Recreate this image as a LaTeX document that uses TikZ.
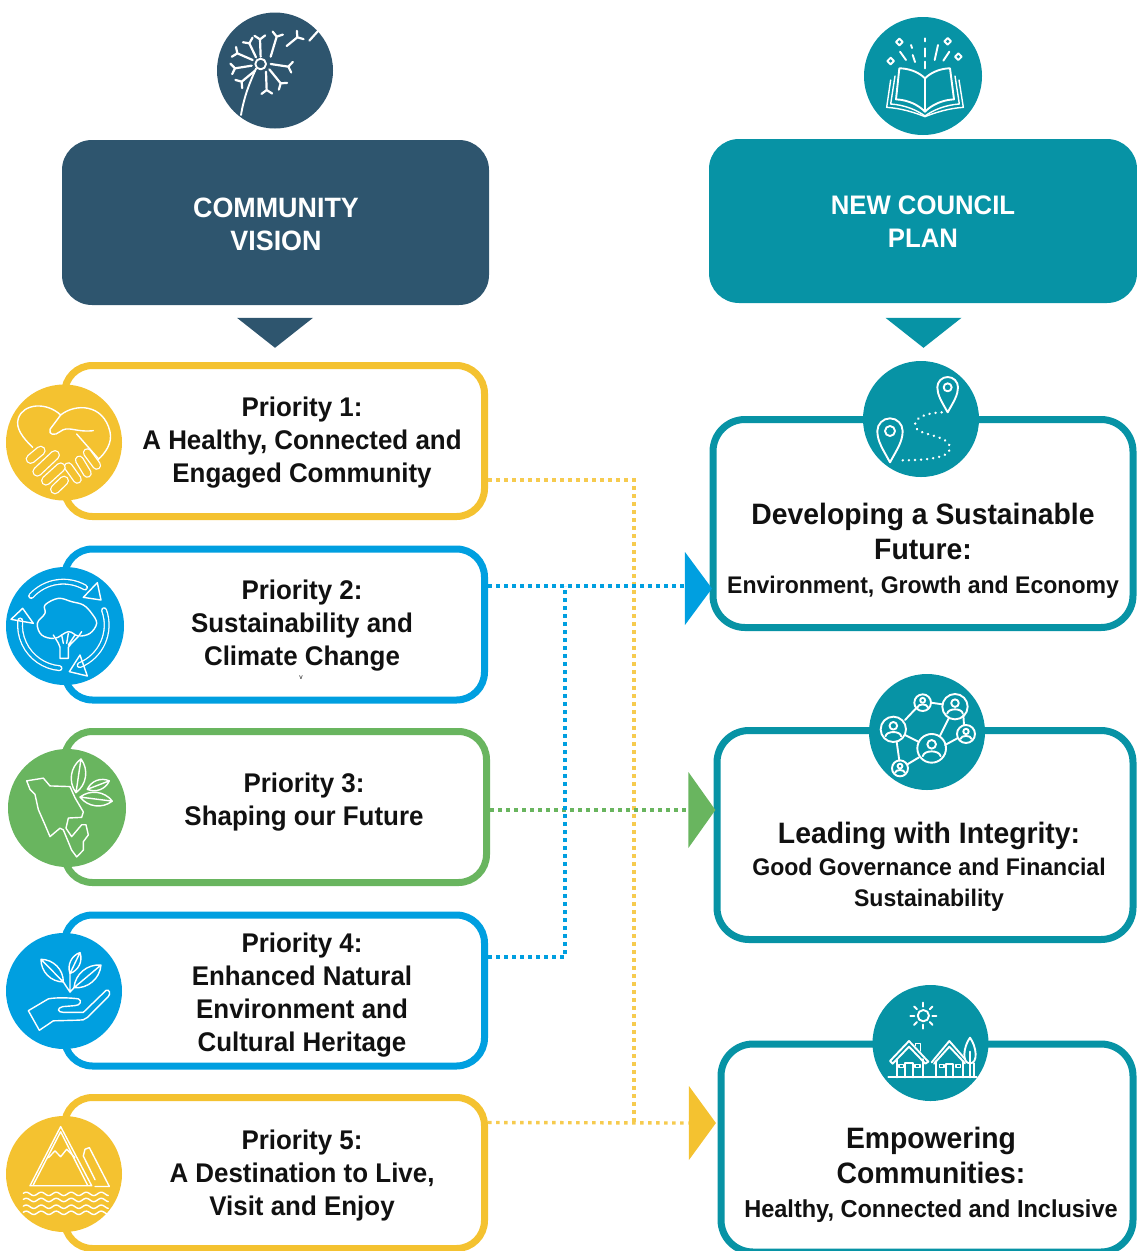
\documentclass[tikz,border=0pt]{standalone}
\usepackage{fontspec}
\newfontfamily\lab[FakeStretch=0.96]{Liberation Sans}
\usetikzlibrary{shapes.geometric,calc}
\definecolor{navy}{HTML}{2E556E}
\definecolor{teal2}{HTML}{0793A5}
\definecolor{yel}{HTML}{F4C230}
\definecolor{blu}{HTML}{009FE0}
\definecolor{grn}{HTML}{69B55F}
\definecolor{ink}{HTML}{111111}
\newcommand\hdl{\fontsize{29.5}{35}\selectfont}
\newcommand\sml{\fontsize{24.5}{35}\selectfont}
\newcommand\smn{\fontsize{24}{35}\selectfont}
\tikzset{
 headbox/.style={rounded corners=30pt,minimum width=427pt,minimum height=165pt,inner sep=0pt},
 headtext/.style={text=white,align=center,inner sep=0pt,font=\lab\bfseries\fontsize{28}{33}\selectfont},
 pbox/.style={draw=#1,line width=7pt,fill=white,rounded corners=28pt,minimum width=420pt,minimum height=151pt,inner sep=0pt},
 rbox/.style={draw=teal2,line width=7pt,fill=white,rounded corners=32pt,inner sep=0pt},
 disc/.style={circle,fill=#1,minimum size=116pt,inner sep=0pt},
 ptext/.style={align=center,text=ink,inner sep=0pt,font=\lab\bfseries\fontsize{27}{33}\selectfont},
 rtext/.style={align=center,text=ink,inner sep=0pt,font=\lab\bfseries\fontsize{27}{35}\selectfont},
 downtri/.style={isosceles triangle,isosceles triangle stretches,shape border rotate=270,fill=#1,minimum width=76pt,minimum height=30pt,inner sep=0pt},
 righttri/.style={isosceles triangle,isosceles triangle stretches,fill=#1,minimum height=27pt,inner sep=0pt},
 dots/.style={draw=#1,line width=3.4pt,dash pattern=on 3.6pt off 4.4pt},
 icon/.style={white,line width=1.4pt,line join=round,line cap=round},
 iconb/.style={white,line width=1.9pt,line join=round,line cap=round},
 zm/.style={x=.33333pt,y=-.33333pt},
 zmt/.style={x=.33333pt,y=-.338pt},
}
\newcommand\capsule[4]{\draw[white,line cap=round,line width=#4pt] (#2)--(#3);\draw[#1,line cap=round,line width=#4pt-2.6pt] (#2)--(#3);}
\newcommand\band[6]{\draw[white,line cap=round,line width=6pt] (#2,#3) ++(#5:#4) arc[start angle=#5,end angle=#6,radius=#4];\draw[#1,line cap=round,line width=3.4pt] (#2,#3) ++(#5:#4) arc[start angle=#5,end angle=#6,radius=#4];}
\newcommand\leaf[3][35]{\draw[icon] (#2) to[bend left=#1] (#3) to[bend left=#1] (#2) -- (#3);}
\newcommand\seed[2]{\draw[iconb,line width=2.2pt] (#1)--(#2) ($(#2)!6.5pt!125:(#1)$)--(#2)--($(#2)!6.5pt!-125:(#1)$);}
\newcommand\person[3]{\draw[iconb] (#1,#2) circle[radius=#3];
 \draw[iconb] (#1,#2-.28*#3) circle[radius=.3*#3];
 \draw[iconb] (#1-.62*#3,#2+.55*#3) .. controls (#1-.55*#3,#2+.1*#3) and (#1+.55*#3,#2+.1*#3) .. (#1+.62*#3,#2+.55*#3);}
\begin{document}
\begin{tikzpicture}[x=1pt,y=-1pt]
\useasboundingbox (0,0) rectangle (1136,1251);
% headers
\node[headbox,fill=navy] (commvis) at (275.5,222.5) {};
\node[headtext] (commtxt) at (276,224) {COMMUNITY\\VISION};
\node[headbox,fill=teal2,minimum height=164pt,minimum width=428pt] (newplan) at (923,221) {};
\node[headtext,font=\lab\bfseries\fontsize{26.8}{33}\selectfont] (plantxt) at (923,222) {NEW COUNCIL\\PLAN};
\node[downtri=navy] (tdownl) at (275,331) {};
\node[downtri=teal2] (tdownr) at (923.5,331) {};
\node[disc=navy] (topl) at (275,70.5) {};
\node[disc=teal2,minimum size=118pt] (topr) at (923,76) {};
% priority boxes
\node[pbox=yel] (p1) at (274.5,441) {};
\node[pbox=blu] (p2) at (274.5,624.5) {};
\node[pbox=grn,minimum width=422pt] (p3) at (275.5,807) {};
\node[pbox=blu] (p4) at (274.5,990.5) {};
\node[pbox=yel] (p5) at (274.5,1173) {};
% council boxes
\node[rbox,minimum width=420pt,minimum height=208pt] (r1) at (923,523.5) {};
\node[rbox,minimum width=416pt,minimum height=209pt] (r2) at (925,835) {};
\node[rbox,minimum width=412pt,minimum height=208pt] (r3) at (927,1148) {};
% connectors
\coordinate (joinY) at (634,1122.5);
\coordinate (joinB) at (565,586);
\node[righttri=yel,minimum width=74pt] (ay) at (701,1123) {};
\draw[dots=yel!85] ([yshift=-39pt]p1.east) -| (joinY);
\draw[dots=yel!85] ([yshift=50.5pt]p5.east) -- (ay.west);
\node[righttri=grn,minimum width=76pt] (ag) at (700.5,810) {};
\draw[dots=grn] ([yshift=-3pt]p3.east) -- (ag.west);
\node[righttri=blu,minimum width=73pt] (ab) at (697,588.5) {};
\draw[dots=blu] ([yshift=33.5pt]p4.east) -| (joinB);
\draw[dots=blu] ([yshift=38.5pt]p2.east) -- ([yshift=2.5pt]ab.west);
% discs
\node[disc=yel] (d1) at (64,442.5) {};
\node[disc=blu,minimum size=118pt] (d2) at (65,626) {};
\node[disc=grn,minimum size=118pt] (d3) at (67,808) {};
\node[disc=blu] (d4) at (64,991) {};
\node[disc=yel] (d5) at (64,1174) {};
\node[disc=teal2] (d6) at (921,419) {};
\node[disc=teal2] (d7) at (927,732) {};
\node[disc=teal2] (d8) at (930.5,1043) {};
% texts
\node[ptext] (t1) at (302,442.5) {Priority 1:\\A Healthy, Connected and\\Engaged Community};
\node[ptext] (t2) at (302,626) {Priority 2:\\Sustainability and\\Climate Change};
\node[text=ink,inner sep=0pt,font=\lab\fontsize{7}{8}\selectfont] (t2v) at (301,678) {v};
\node[ptext] (t3) at (304,802) {Priority 3:\\Shaping our Future};
\node[ptext] (t4) at (302,995) {Priority 4:\\Enhanced Natural\\Environment and\\Cultural Heritage};
\node[ptext] (t5) at (302,1176) {Priority 5:\\A Destination to Live,\\Visit and Enjoy};
\node[rtext] (t6) at (923,551) {\hdl Developing a Sustainable\\\hdl Future:\\[-1pt]\smn Environment, Growth and Economy};
\node[rtext] (t7) at (929,867) {\hdl Leading with Integrity:\\[-3pt]\smn Good Governance and Financial\\[-4pt]\smn Sustainability};
\node[rtext] (t8) at (931,1175) {\hdl Empowering\\\hdl Communities:\\[-1pt]\sml Healthy, Connected and Inclusive};
% dandelion
\begin{scope}[shift={(200,0)},zm]
\draw[iconb] (182,192) circle[radius=16];
\draw[iconb] (168,206) .. controls (150,245) and (132,290) .. (123,345);
\seed{182,170}{180,118}\seed{168,172}{148,130}\seed{158,180}{112,160}\seed{155,197}{105,205}\seed{165,212}{125,245}
\seed{198,215}{200,270}\seed{208,208}{242,250}\seed{212,192}{265,200}\seed{212,170}{230,110}\seed{260,138}{292,112}\seed{328,122}{355,92}
\end{scope}
% book
\begin{scope}[shift={(850,0)},zm]
\draw[iconb] (225,235) -- (225,335);
\draw[iconb] (225,235) .. controls (205,215) and (175,205) .. (148,205) -- (138,298) .. controls (175,300) and (205,315) .. (225,335)
 .. controls (245,315) and (275,300) .. (312,298) -- (300,205) .. controls (275,205) and (245,215) .. (225,235);
\draw[icon] (135,228) -- (122,312) .. controls (165,315) and (200,330) .. (225,348) .. controls (250,330) and (285,315) .. (328,312) -- (315,228);
\draw[icon] (122,240) -- (110,322) .. controls (155,325) and (195,338) .. (225,350) .. controls (255,338) and (295,325) .. (340,322) -- (327,240);
\draw[iconb] (225,115)--(225,124) (225,145)--(225,170) (225,185)--(225,205) (183,135)--(186,144) (188,165)--(195,186) (150,155)--(168,180) (264,135)--(254,180) (298,155)--(280,182);
\foreach \p in {{148,126},{293,124},{122,183},{325,170}} {\draw[iconb] (\p) ++(-10,0) -- ++(10,-10) -- ++(10,10) -- ++(-10,10) -- cycle;}
\end{scope}
% handshake
\begin{scope}[shift={(0,360)},zm]
\draw[icon] (98,262) .. controls (70,235) and (45,205) .. (55,175) .. controls (70,130) and (140,125) .. (182,165) .. controls (225,130) and (310,130) .. (330,215) .. controls (338,250) and (315,280) .. (295,298);
\draw[icon] (182,165) -- (150,208) .. controls (145,225) and (165,228) .. (180,215) .. controls (205,195) and (225,218) .. (280,212);
\capsule{yel}{205,320}{232,358}{9}\capsule{yel}{238,300}{262,340}{9}\capsule{yel}{262,278}{290,316}{9}
\draw[icon] (230,222) -- (296,297);
\capsule{yel}{92,297}{122,272}{10}\capsule{yel}{112,335}{165,285}{10}\capsule{yel}{138,362}{182,322}{10}\capsule{yel}{165,388}{192,362}{10}
\end{scope}
% tree
\begin{scope}[shift={(0,360)},zm]
\band{blu}{190}{795}{130}{222}{300}\band{blu}{190}{795}{130}{340}{428}\band{blu}{190}{795}{130}{95}{186}
\draw[icon] (250,712) -- (292,668) -- (303,720) -- cycle;
\draw[icon] (240,885) -- (208,935) -- (262,948) -- cycle;
\draw[icon] (68,745) -- (33,778) -- (100,790) -- cycle;
\draw[icon,fill=blu] plot[smooth cycle,tension=.6] coordinates {(165,835)(125,825)(112,790)(135,760)(135,735)(175,715)(215,725)(250,735)(275,760)(290,790)(270,820)(235,828)(205,815)};
\draw[icon,fill=blu] (180,895) -- (180,862) .. controls (175,845) and (165,835) .. (160,825) (205,895) -- (205,862) .. controls (215,845) and (235,835) .. (245,815) (180,895)--(205,895) (185,825)--(190,850) (205,820)--(200,850) (225,825)--(205,855);
\end{scope}
% map
\begin{scope}[shift={(0,720)},zmt]
\draw[icon] (80,180)--(130,172)--(150,195)--(210,197)--(225,230)--(250,272)--(245,288)--(205,290)--(198,320)--(215,345)--(245,310)--(258,310)--(265,340)--(250,360)--(250,385)--(230,405)--(215,385)--(190,325)--(180,320)--(150,345)--(135,310)--(115,265)--(105,220)--(90,205)--cycle;
\leaf[45]{243,115}{228,215}\leaf[45]{328,180}{262,205}\leaf[45]{337,240}{240,228}
\end{scope}
% hand and plant
\begin{scope}[shift={(0,720)},zmt]
\leaf[45]{123,708}{190,775}\leaf[45]{240,688}{210,750}\leaf[45]{303,725}{222,792}
\draw[icon] (210,805) -- (210,750) (210,805)--(190,775) (210,805)--(222,792);
\draw[icon] (85,860) -- (145,825) .. controls (170,820) and (215,822) .. (235,825) .. controls (248,830) and (240,845) .. (225,845) -- (188,848) .. controls (170,852) and (172,865) .. (190,865) -- (250,865) -- (318,800) .. controls (328,795) and (333,810) .. (325,818) -- (262,880) .. controls (255,888) and (245,888) .. (235,888) -- (160,890) -- (118,918) -- cycle;
\end{scope}
% mountains
\begin{scope}[shift={(0,720)},zmt]
\draw[icon] (90,1378) -- (182,1203) -- (275,1378) -- cycle;
\draw[icon] (100,1375) -- (182,1218) -- (262,1375);
\draw[icon] (145,1295) -- (165,1275) -- (182,1292) -- (200,1270) -- (225,1295);
\draw[icon] (285,1380) -- (328,1380) -- (268,1265) -- (255,1270) -- (250,1290) -- (285,1360);
\foreach \yy in {1402,1420,1440,1458} {\draw[icon] plot[domain=70:325,samples=60] (\x,{\yy+5*sin(\x*8)});}
\end{scope}
% pins
\begin{scope}[shift={(850,355)},zm]
\draw[iconb] (293,172) .. controls (275,140) and (262,120) .. (262,97) arc[start angle=180,end angle=360,radius=31] .. controls (324,120) and (311,140) .. (293,172);
\draw[iconb] (293,97) circle[radius=12];
\draw[iconb] (120,322) .. controls (100,285) and (82,260) .. (82,228) arc[start angle=180,end angle=360,radius=38] .. controls (158,260) and (140,285) .. (120,322);
\draw[iconb] (120,228) circle[radius=15];
\draw[white,line width=2.6pt,line cap=round,dash pattern=on 0.1pt off 6pt] (275,172) .. controls (220,175) and (195,190) .. (195,210) .. controls (195,245) and (300,235) .. (300,280) .. controls (300,310) and (220,316) .. (150,316);
\end{scope}
% network
\begin{scope}[shift={(850,670)},zm]
\draw[iconb] (165,150)--(198,115) (243,98)--(277,103) (296,145)--(270,197) (340,135)--(342,165) (322,205)--(285,225) (165,195)--(205,215) (140,215)--(148,272) (172,283)--(207,262);
\person{245}{235}{43}\person{130}{178}{38}\person{315}{110}{38}\person{218}{98}{25}\person{348}{192}{27}\person{150}{295}{24}
\end{scope}
% houses
\begin{scope}[shift={(850,985)},zm]
\draw[iconb] (220,92) circle[radius=17];
\foreach \a in {0,45,...,315} {\draw[iconb] (220,92) ++(\a:27) -- ++(\a:12);}
\draw[iconb] (115,277)--(380,277);
\draw[iconb] (120,228) -- (177,168) -- (235,230) -- (226,236) -- (177,185) -- (128,236) -- cycle;
\draw[iconb] (140,222)--(140,277) (220,222)--(220,277) (165,277)--(165,235)--(188,235)--(188,277);
\draw[icon] (147,238) rectangle (160,248) (195,238) rectangle (210,248);
\draw[icon] (197,182)--(197,175)--(212,175)--(212,198);
\draw[iconb] (245,232) -- (298,168) -- (345,222) (252,236)--(298,185)--(345,235);
\draw[iconb] (258,228)--(258,277) (338,228)--(338,277) (288,277)--(288,238)--(310,238)--(310,277);
\draw[icon] (268,238) rectangle (282,248) (318,238) rectangle (332,248);
\draw[iconb] (360,158) .. controls (340,185) and (335,235) .. (360,235) .. controls (385,235) and (380,185) .. (360,158);
\draw[iconb] (360,200)--(360,277) (372,235)--(372,277);
\end{scope}
\end{tikzpicture}
\end{document}
